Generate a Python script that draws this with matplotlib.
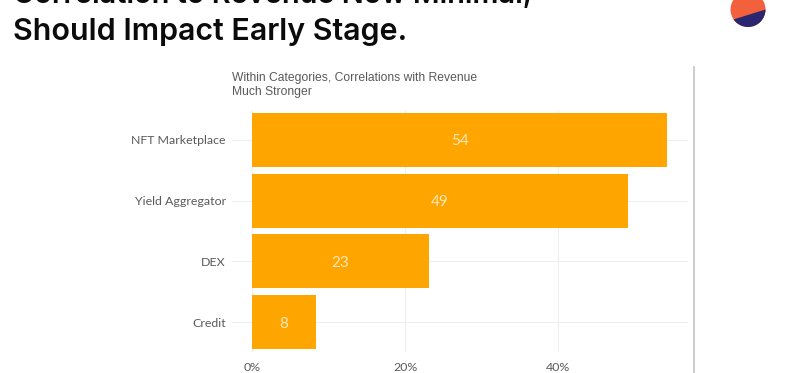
import matplotlib
matplotlib.use("Agg")
import matplotlib.pyplot as plt
from matplotlib.patches import Circle, Polygon

categories = ["NFT Marketplace", "Yield Aggregator", "DEX", "Credit"]
values = [54.2, 49.1, 23.1, 8.4]
value_labels = ["54", "49", "23", "8"]
xticks = [0, 20, 40]
xticklabels = ["0%", "20%", "40%"]
W, H = 800, 373
fig = plt.figure(figsize=(W/100, H/100), dpi=100, facecolor="white")

L, R, T, B = 232, 688, 110, 352
ax = fig.add_axes([L/W, 1-B/H, (R-L)/W, (B-T)/H])
pxu = (558.5-252)/40
ax.set_xlim((L-252)/pxu, (R-252)/pxu)
step = 60.67
ax.set_ylim(3 + (B-322)/step, 0 - (140-T)/step)
ypos = list(range(len(categories)))
ax.barh(ypos, values, height=54/step, color="#FFA500", zorder=3)
ax.set_yticks(ypos, categories)
ax.set_xticks(xticks, xticklabels)
ax.grid(True, color="#EFEFEF", linewidth=0.8, zorder=0)
for s in ax.spines.values():
    s.set_visible(False)
ax.tick_params(length=0, labelsize=9, labelcolor="#5A5A5A")
ax.tick_params(axis="y", pad=4.5)
ax.tick_params(axis="x", pad=7)
for lab in ax.get_xticklabels() + ax.get_yticklabels():
    lab.set_family("Lato")
    lab.set_fontsize(8.9)
for lab in ax.get_yticklabels():
    lab.set_va("center_baseline")
for y, v, t in zip(ypos, values, value_labels):
    ax.text(v/2, y, t, ha="center", va="center_baseline", color="#FFE9BD", fontsize=11, family="Lato", zorder=4)

def px(x, y):
    return x/W, 1-y/H

title_kw = dict(fontweight="semibold", family="Inter", color="#0B0B0B", va="baseline")
fig.text(*px(13, 40), "Should Impact Early Stage.", fontsize=21.9, **title_kw)
fig.text(*px(13, 2.5), "Correlation to Revenue Now Minimal,", fontsize=20.8, **title_kw)
fig.text(*px(231.5, 81.5), "Within Categories, Correlations with Revenue", fontsize=8.7, family="Liberation Sans", color="#5A5A5A", va="baseline")
fig.text(*px(231.5, 94.5), "Much Stronger", fontsize=8.7, family="Liberation Sans", color="#5A5A5A", va="baseline")

fig.add_artist(plt.Line2D([693.5/W, 693.5/W], [1-67/H, 0], color="#C8C8C8", lw=1.3))

bg = fig.add_axes([0, 0, 1, 1], facecolor="none", zorder=5)
bg.set_xlim(0, W); bg.set_ylim(H, 0); bg.axis("off")
c = Circle((748, 9.5), 17.5, color="#F2603C", lw=0)
bg.add_patch(c)
p = Polygon([(728, 21.2), (768, 8.7), (768, 40), (728, 40)], color="#2B2670", lw=0)
bg.add_patch(p)
p.set_clip_path(c)
fig.savefig("out.png", dpi=100)
